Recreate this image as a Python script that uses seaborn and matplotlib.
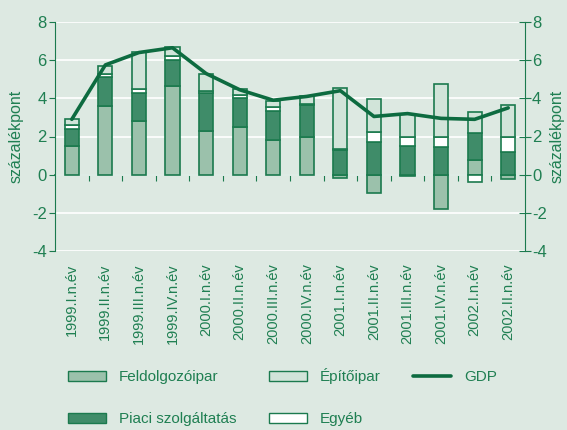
import numpy as np
import pandas as pd
import seaborn as sns
import matplotlib.pyplot as plt
from matplotlib.patches import Patch
from matplotlib.lines import Line2D

quarters = ["1999.I.n.év", "1999.II.n.év", "1999.III.n.év", "1999.IV.n.év",
            "2000.I.n.év", "2000.II.n.év", "2000.III.n.év", "2000.IV.n.év",
            "2001.I.n.év", "2001.II.n.év", "2001.III.n.év", "2001.IV.n.év",
            "2002.I.n.év", "2002.II.n.év"]
feldolgozoipar = [1.5, 3.6, 2.8, 4.65, 2.3, 2.5, 1.8, 2.0, -0.2, -0.95, -0.05, -1.8, 0.75, -0.25]
piaci = [0.9, 1.5, 1.5, 1.35, 2.0, 1.5, 1.55, 1.65, 1.3, 1.7, 1.5, 1.45, 1.45, 1.2]
egyeb = [0.2, 0.2, 0.2, 0.2, 0.1, 0.15, 0.2, 0.05, 0.05, 0.55, 0.45, 0.55, -0.4, 0.75]
epitoipar = [0.3, 0.4, 1.95, 0.5, 0.9, 0.35, 0.3, 0.4, 3.2, 1.7, 1.25, 2.75, 1.1, 1.7]
gdp = [2.9, 5.75, 6.4, 6.65, 5.3, 4.45, 3.9, 4.1, 4.4, 3.05, 3.2, 2.95, 2.9, 3.5]

BG = "#dde9e2"
GREEN = "#1b7a4e"
TXT = "#1f7f52"

sns.set_style("white")
plt.rcParams["font.family"] = ["Liberation Sans", "DejaVu Sans"]
plt.rcParams["axes.unicode_minus"] = False

fig = plt.figure(figsize=(5.67, 4.30), dpi=100, facecolor=BG)
ax = fig.add_axes([55 / 567, 1 - 251 / 430, 470 / 567, 229 / 430])
ax.set_facecolor(BG)

series = [
    ("Feldolgozóipar", feldolgozoipar, "#9bc1ab"),
    ("Piaci szolgáltatás", piaci, "#3f8c69"),
    ("Egyéb", egyeb, "#ffffff"),
    ("Építőipar", epitoipar, "#d1e4d9"),
]

pos_cum = np.zeros(len(quarters))
neg_cum = np.zeros(len(quarters))
for name, vals, col in series:
    v = np.array(vals, dtype=float)
    bottom = np.where(v >= 0, pos_cum, neg_cum)
    df = pd.DataFrame({"q": quarters, "v": v})
    sns.barplot(data=df, x="q", y="v", bottom=bottom, color=col, saturation=1,
                width=0.42, edgecolor=GREEN, linewidth=1.2, ax=ax, zorder=3)
    pos_cum = np.where(v >= 0, pos_cum + v, pos_cum)
    neg_cum = np.where(v < 0, neg_cum + v, neg_cum)

sns.lineplot(x=np.arange(len(quarters)), y=gdp, color="#0d6b40", linewidth=2.6,
             ax=ax, zorder=4)

ax.set_xlim(-0.5, len(quarters) - 0.5)
ax.set_ylim(-4, 8)
ax.set_yticks(range(-4, 9, 2))
ax.yaxis.grid(True, color="white", linewidth=1.2, zorder=0)
ax.set_axisbelow(True)
for s in ["top", "bottom"]:
    ax.spines[s].set_visible(False)
ax.spines["left"].set_color(GREEN)
ax.spines["right"].set_visible(False)
ax.tick_params(axis="y", direction="out", length=4, color=GREEN, labelcolor=TXT,
               labelsize=12, pad=2)
ax.tick_params(axis="x", length=0, labelcolor=TXT, labelsize=10.5, pad=9)
ax.set_xticks(range(len(quarters)))
ax.set_xticklabels(quarters, rotation=90)
ax.set_xlabel("")
ax.set_ylabel("százalékpont", color=TXT, fontsize=11.5, labelpad=6)

# zero line with small ticks between the bars
zx = ax.secondary_xaxis(4 / 12)
zx.set_xticks(np.arange(len(quarters) - 1) + 0.5)
zx.tick_params(direction="out", length=4, color=GREEN, labelbottom=False,
               labeltop=False, bottom=True, top=False)
zx.spines["bottom"].set_color(GREEN)
zx.spines["bottom"].set_linewidth(1.2)

ax2 = ax.twinx()
ax2.set_ylim(-4, 8)
ax2.set_yticks(range(-4, 9, 2))
for s in ["top", "bottom", "left"]:
    ax2.spines[s].set_visible(False)
ax2.spines["right"].set_color(GREEN)
ax2.tick_params(axis="y", direction="inout", length=8, color=GREEN, labelcolor=TXT,
                labelsize=12, pad=1)
ax2.set_ylabel("százalékpont", color=TXT, fontsize=11.5, rotation=90, labelpad=2)

handles = [
    Patch(facecolor="#9bc1ab", edgecolor=GREEN, label="Feldolgozóipar"),
    Patch(facecolor="#3f8c69", edgecolor=GREEN, label="Piaci szolgáltatás"),
    Patch(facecolor="#d1e4d9", edgecolor=GREEN, label="Építőipar"),
    Patch(facecolor="#ffffff", edgecolor=GREEN, label="Egyéb"),
    Line2D([], [], color="#0d6b40", linewidth=2.6, label="GDP"),
]
leg = fig.legend(handles=handles, ncol=3, loc="upper left",
                 bbox_to_anchor=(68 / 567, 1 - 368 / 430), frameon=False,
                 fontsize=11, handlelength=2.5, handleheight=0.65,
                 handletextpad=0.85, columnspacing=2.1, labelspacing=1.85,
                 borderpad=0, borderaxespad=0)
for t in leg.get_texts():
    t.set_color(TXT)

fig.savefig("out.png", dpi=100, facecolor=BG)
